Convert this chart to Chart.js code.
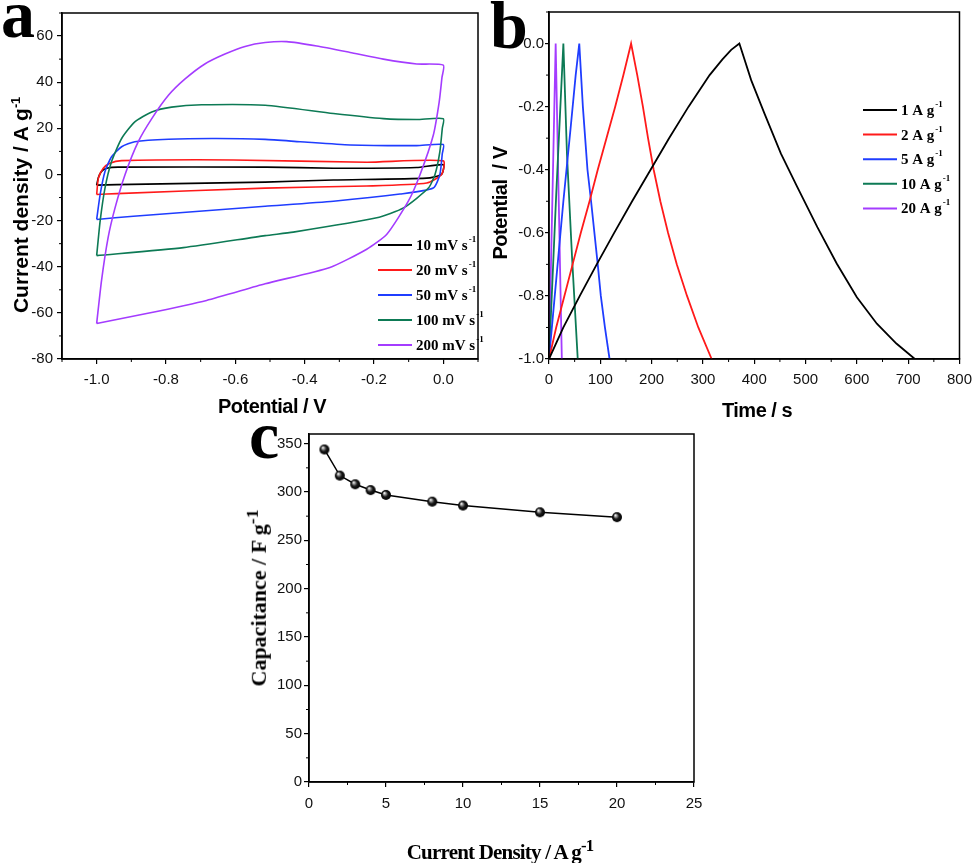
<!DOCTYPE html>
<html>
<head>
<meta charset="utf-8">
<script src="https://cdn.jsdelivr.net/npm/chart.js@4.4.1/dist/chart.umd.min.js"></script>
<style>
  body { margin: 0; background: #fff; }
  #fig { position: relative; width: 979px; height: 863px; overflow: hidden; background: #fff; }
  .box { position: absolute; }
  .t { position: absolute; white-space: nowrap; line-height: 1; color: #000; }
  .sans { font-family: "Liberation Sans", Arial, sans-serif; font-weight: bold; }
  .serif { font-family: "Liberation Serif", "Times New Roman", serif; font-weight: bold; }
  .rot { transform: translate(-50%, -50%) rotate(-90deg); }
  .mid { transform: translate(-50%, -50%); }
  .lett { font-size: 68px; }
  .sans sup { font-size: 60%; }
  .serif sup { font-size: 80%; }
</style>
</head>
<body>
<div id="fig">
  <div class="box" style="left:0;top:0;width:490px;height:400px"><canvas id="graficoCV"></canvas></div>
  <div class="box" style="left:490px;top:0;width:489px;height:400px"><canvas id="graficoGCD"></canvas></div>
  <div class="box" style="left:230px;top:400px;width:500px;height:463px"><canvas id="graficoCap"></canvas></div>

  <div class="t serif lett" style="left:1px;top:-20px">a</div>
  <div class="t serif lett" style="left:490px;top:-9px">b</div>
  <div class="t serif lett" style="left:249px;top:401px">c</div>

  <div class="t sans rot" style="left:20px;top:205px;font-size:21px">Current density / A g<sup>-1</sup></div>
  <div class="t sans mid" style="left:272px;top:406px;font-size:20px;letter-spacing:-0.5px">Potential / V</div>

  <div class="t sans rot" style="left:500px;top:203px;font-size:20px;letter-spacing:-0.5px">Potential&nbsp;&nbsp;/ V</div>
  <div class="t sans mid" style="left:757px;top:410px;font-size:20px;letter-spacing:-0.5px">Time / s</div>

  <div class="t serif rot" style="left:257px;top:598px;font-size:22px">Capacitance / F g<sup>-1</sup></div>
  <div class="t serif mid" style="left:500px;top:850px;font-size:21px;letter-spacing:-0.8px">Current Density / A g<sup>-1</sup></div>
</div>

<script>
// (a) CV curves, potential in V / current density in A g-1
const cvPot10 = [-1.0, -0.995, -0.986, -0.971, -0.938, -0.51, -0.317, -0.077, 0, -0.005, -0.048, -0.317, -0.514, -0.942, -1.0];
const cvCur10 = [-4.6, -1.3, 1.3, 2.7, 3.2, 3.2, 2.7, 3.0, 4.2, 0, -1.6, -2.4, -3.3, -4.4, -4.6];

const cvPot20 = [-1.0, -0.995, -0.981, -0.962, -0.928, -0.606, -0.221, 0, -0.005, -0.048, -0.221, -0.514, -0.942, -1.0];
const cvCur20 = [-8.7, -1.6, 2.7, 4.9, 6.0, 6.3, 5.3, 5.9, 0, -3.7, -5.0, -5.9, -8.3, -8.7];

const cvPot50 = [-1.0, -0.990, -0.976, -0.957, -0.928, -0.890, -0.793, -0.654, -0.514, -0.413, -0.269, -0.077, 0, -0.003, -0.010, -0.029, -0.125, -0.317, -0.514, -0.894, -1.0];
const cvCur50 = [-19.5, -8.7, 1.3, 7.7, 12.0, 14.2, 15.3, 15.6, 15.2, 14.2, 12.8, 12.5, 13.0, 9.0, 0, -5.9, -8.5, -11.6, -13.8, -18.1, -19.5];

const cvPot100 = [-1.0, -0.990, -0.976, -0.957, -0.928, -0.890, -0.841, -0.784, -0.697, -0.514, -0.317, -0.173, -0.077, 0, -0.003, -0.010, -0.024, -0.043, -0.115, -0.192, -0.433, -0.514, -0.750, -1.0];
const cvCur100 = [-35.2, -20.2, -5.9, 5.6, 15.6, 22.8, 27.1, 29.2, 30.2, 30.0, 26.4, 24.2, 23.8, 24.2, 20.0, 9.9, 0, -5.9, -14.5, -18.8, -25.0, -26.5, -31.7, -35.2];

const cvPot200 = [-1.0, -0.986, -0.967, -0.947, -0.918, -0.880, -0.841, -0.793, -0.745, -0.688, -0.630, -0.572, -0.514, -0.452, -0.365, -0.269, -0.173, -0.077, 0, -0.004, -0.012, -0.029, -0.067, -0.101, -0.163, -0.221, -0.327, -0.514, -0.683, -0.856, -1.0];
const cvCur200 = [-64.6, -46.0, -27.4, -14.5, 0, 14.2, 24.2, 34.3, 41.4, 47.9, 52.2, 55.5, 57.2, 57.6, 55.7, 52.9, 50.0, 47.9, 47.4, 42.0, 31.4, 17.0, 0, -11.6, -25.9, -32.4, -40.3, -47.4, -54.6, -60.3, -64.6];

const cvLabels = ['10 mV s^-1', '20 mV s^-1', '50 mV s^-1', '100 mV s^-1', '200 mV s^-1'];
const cvTicksX = [-1.0, -0.8, -0.6, -0.4, -0.2, 0.0];
const cvTicksY = [-80, -60, -40, -20, 0, 20, 40, 60];

// (b) galvanostatic charge / discharge, time in s / potential in V
const gcdTime1 = [0, 28, 60, 93, 127, 162, 198, 234, 272, 313, 338, 355, 371, 394, 420, 452, 484, 523, 561, 600, 639, 677, 713];
const gcdPot1 = [-1.0, -0.9, -0.8, -0.7, -0.6, -0.5, -0.4, -0.3, -0.2, -0.1, -0.05, -0.02, 0, -0.116, -0.222, -0.349, -0.455, -0.582, -0.698, -0.804, -0.888, -0.951, -1.0];

const gcdTime2 = [0, 14, 30, 46, 62, 79, 95, 112, 129, 145, 160, 172, 183, 193, 204, 217, 232, 249, 269, 291, 317];
const gcdPot2 = [-1.0, -0.9, -0.8, -0.7, -0.6, -0.5, -0.4, -0.3, -0.2, -0.1, 0, -0.1, -0.2, -0.3, -0.4, -0.5, -0.6, -0.7, -0.8, -0.9, -1.0];

const gcdTime5 = [0, 14, 28, 42, 52, 59, 66, 75, 82, 95, 101, 109, 118];
const gcdPot5 = [-1.0, -0.75, -0.5, -0.27, -0.1, 0, -0.2, -0.4, -0.5, -0.7, -0.8, -0.9, -1.0];

const gcdTime10 = [0, 14, 28, 35, 45, 56];
const gcdPot10 = [-1.0, -0.48, 0, -0.35, -0.68, -1.0];

const gcdTime20 = [0, 7, 13, 19, 25];
const gcdPot20 = [-1.0, -0.46, 0, -0.5, -1.0];

const gcdLabels = ['1 A g^-1', '2 A g^-1', '5 A g^-1', '10 A g^-1', '20 A g^-1'];
const gcdTicksX = [0, 100, 200, 300, 400, 500, 600, 700, 800];
const gcdTicksY = [-1.0, -0.8, -0.6, -0.4, -0.2, 0.0];

// (c) specific capacitance vs current density
const currentDensity = [1, 2, 3, 4, 5, 8, 10, 15, 20];
const capacitance = [344, 317, 308, 302, 297, 290, 286, 279, 274];
const capTicksX = [0, 5, 10, 15, 20, 25];
const capTicksY = [0, 50, 100, 150, 200, 250, 300, 350];

const cores = ['#000000', '#ff1a1a', '#1f3dff', '#0d7a55', '#a43cff'];
const sans = '"Liberation Sans", Arial, sans-serif';
const serif = '"Liberation Serif", "Times New Roman", serif';

function pontos(xs, ys) {
  return xs.map((x, i) => ({ x: x, y: ys[i] }));
}

// minor ticks halfway between the major ones
function menores(ticks, min, max) {
  const passo = ticks[1] - ticks[0];
  const out = [];
  for (let v = ticks[0] - passo / 2; v <= max + 1e-9; v += passo) {
    if (v >= min - 1e-9) out.push(v);
  }
  return out;
}

function eixo(pos, min, max, ticks, fmt, tam, tickLen, pad) {
  const e = {
    type: 'linear',
    position: pos,
    min: min,
    max: max,
    afterBuildTicks: s => { s.ticks = ticks.map(v => ({ value: v })); },
    grid: { drawOnChartArea: false, color: '#000', tickLength: tickLen, lineWidth: 1.2 },
    border: { color: '#000', width: 1.5 },
    ticks: {
      color: '#111',
      font: { family: sans, size: 15 },
      padding: pad,
      maxRotation: 0,
      autoSkip: false,
      callback: fmt
    }
  };
  if (pos === 'left') e.afterFit = s => { s.width = tam; };
  else e.afterFit = s => { s.height = tam; };
  return e;
}

const moldura = {
  id: 'moldura',
  afterDraw(chart, args, opts) {
    const { ctx, chartArea: a, scales } = chart;
    ctx.save();
    ctx.strokeStyle = '#000';
    ctx.lineWidth = 1.5;
    ctx.strokeRect(a.left, a.top, a.right - a.left, a.bottom - a.top);
    ctx.lineWidth = 1;
    ctx.beginPath();
    opts.minorX.forEach(v => {
      const x = scales.x.getPixelForValue(v);
      ctx.moveTo(x, a.bottom);
      ctx.lineTo(x, a.bottom + 3);
    });
    opts.minorY.forEach(v => {
      const y = scales.y.getPixelForValue(v);
      ctx.moveTo(a.left - 3, y);
      ctx.lineTo(a.left, y);
    });
    ctx.stroke();
    ctx.restore();
  }
};

const legendaDentro = {
  id: 'legendaDentro',
  afterDatasetsDraw(chart, args, opts) {
    if (!opts.x) return;
    const ctx = chart.ctx;
    ctx.save();
    chart.data.datasets.forEach((ds, i) => {
      const y = opts.y + i * opts.passo;
      ctx.strokeStyle = ds.borderColor;
      ctx.lineWidth = 2;
      ctx.beginPath();
      ctx.moveTo(opts.x, y);
      ctx.lineTo(opts.x + opts.len, y);
      ctx.stroke();
      const partes = ds.label.split('^');
      ctx.fillStyle = '#000';
      ctx.textBaseline = 'alphabetic';
      ctx.font = 'bold 15px ' + serif;
      const x0 = opts.x + opts.len + 4;
      ctx.fillText(partes[0], x0, y + 5);
      const w = ctx.measureText(partes[0]).width;
      ctx.font = 'bold 9px ' + serif;
      ctx.fillText(partes[1], x0 + w + 1, y - 3);
    });
    ctx.restore();
  }
};

function gerarGraficoCV() {
  const ctx = document.getElementById('graficoCV').getContext('2d');
  const series = [[cvPot10, cvCur10], [cvPot20, cvCur20], [cvPot50, cvCur50], [cvPot100, cvCur100], [cvPot200, cvCur200]];
  new Chart(ctx, {
    type: 'scatter',
    data: {
      datasets: series.map((s, i) => ({
        label: cvLabels[i],
        data: pontos(s[0], s[1]),
        showLine: true,
        borderColor: cores[i],
        borderWidth: 1.6,
        pointRadius: 0,
        tension: 0.2,
        order: 5 - i
      }))
    },
    options: {
      responsive: true,
      maintainAspectRatio: false,
      animation: false,
      layout: { padding: { left: 10, top: 10, right: 12, bottom: 11 } },
      plugins: {
        legend: { display: false },
        tooltip: { enabled: false },
        moldura: { minorX: menores(cvTicksX, -1.1, 0.1), minorY: menores(cvTicksY, -80, 70) },
        legendaDentro: { x: 378, y: 245, passo: 25, len: 34 }
      },
      scales: {
        x: eixo('bottom', -1.1, 0.1, cvTicksX, v => v.toFixed(1), 30, 5, 7),
        y: eixo('left', -80, 70, cvTicksY, v => String(v), 52, 5, 4)
      }
    },
    plugins: [moldura, legendaDentro]
  });
}

function gerarGraficoGCD() {
  const ctx = document.getElementById('graficoGCD').getContext('2d');
  const series = [[gcdTime1, gcdPot1], [gcdTime2, gcdPot2], [gcdTime5, gcdPot5], [gcdTime10, gcdPot10], [gcdTime20, gcdPot20]];
  new Chart(ctx, {
    type: 'scatter',
    data: {
      datasets: series.map((s, i) => ({
        label: gcdLabels[i],
        data: pontos(s[0], s[1]),
        showLine: true,
        borderColor: cores[i],
        borderWidth: 1.8,
        pointRadius: 0,
        tension: 0
      }))
    },
    options: {
      responsive: true,
      maintainAspectRatio: false,
      animation: false,
      layout: { padding: { left: 10, top: 12, right: 16, bottom: 11 } },
      plugins: {
        legend: { display: false },
        tooltip: { enabled: false },
        moldura: { minorX: menores(gcdTicksX, 0, 800), minorY: menores(gcdTicksY, -1.0, 0.1) },
        legendaDentro: { x: 373, y: 110, passo: 24.6, len: 34 }
      },
      scales: {
        x: eixo('bottom', 0, 800, gcdTicksX, v => String(v), 30, 5, 7),
        y: eixo('left', -1.0, 0.1, gcdTicksY, v => v.toFixed(1), 49, 4, 1)
      }
    },
    plugins: [moldura, legendaDentro]
  });
}

function esfera(r) {
  const c = document.createElement('canvas');
  c.width = c.height = 2 * r + 2;
  const g = c.getContext('2d');
  const grad = g.createRadialGradient(r + 1 - r * 0.35, r + 1 - r * 0.4, 0.3, r + 1, r + 1, r);
  grad.addColorStop(0, '#ffffff');
  grad.addColorStop(0.22, '#9a9a9a');
  grad.addColorStop(0.55, '#1a1a1a');
  grad.addColorStop(1, '#000000');
  g.fillStyle = grad;
  g.beginPath();
  g.arc(r + 1, r + 1, r, 0, 2 * Math.PI);
  g.fill();
  return c;
}

function gerarGraficoCapacitancia() {
  const ctx = document.getElementById('graficoCap').getContext('2d');
  new Chart(ctx, {
    type: 'scatter',
    data: {
      datasets: [{
        label: 'Capacitance',
        data: pontos(currentDensity, capacitance),
        showLine: true,
        borderColor: '#000',
        borderWidth: 1.5,
        pointStyle: esfera(5),
        pointRadius: 6
      }]
    },
    options: {
      responsive: true,
      maintainAspectRatio: false,
      animation: false,
      layout: { padding: { left: 20, top: 34, right: 36, bottom: 51 } },
      plugins: {
        legend: { display: false },
        tooltip: { enabled: false },
        moldura: { minorX: menores(capTicksX, 0, 25), minorY: menores(capTicksY, 0, 360) },
        legendaDentro: {}
      },
      scales: {
        x: eixo('bottom', 0, 25, capTicksX, v => String(v), 30, 5, 8),
        y: eixo('left', 0, 360, capTicksY, v => String(v), 59, 5, 2)
      }
    },
    plugins: [moldura, legendaDentro]
  });
}

gerarGraficoCV();
gerarGraficoGCD();
gerarGraficoCapacitancia();
</script>
</body>
</html>
